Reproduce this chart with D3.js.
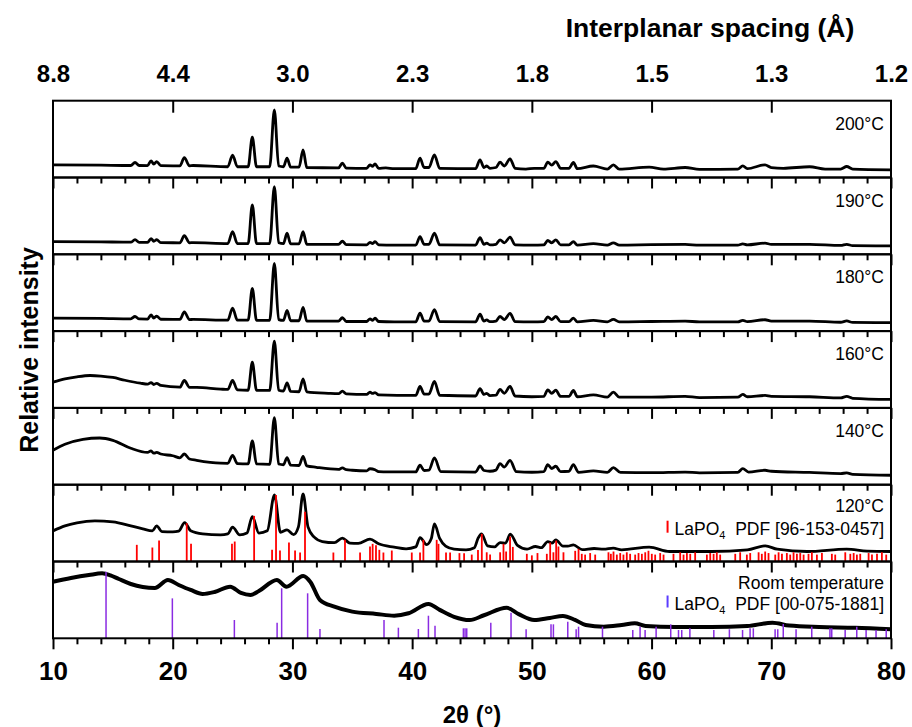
<!DOCTYPE html>
<html>
<head>
<meta charset="utf-8">
<script src="https://cdn.jsdelivr.net/npm/d3@7"></script>
<style>
  body { margin: 0; background: #fff; }
  text { font-family: "Liberation Sans", Arial, sans-serif; }
</style>
</head>
<body>
<div id="chart"></div>
<script>
// panel labels, top to bottom
var panelLabels = ['200\u00b0C', '190\u00b0C', '180\u00b0C', '160\u00b0C', '140\u00b0C', '120\u00b0C', 'Room temperature'];

// d-spacing labels on the top axis (at 2theta = 10, 20 ... 80)
var dTickPos = [10, 20, 30, 40, 50, 60, 70, 80];
var dTickLabels = ['8.8', '4.4', '3.0', '2.3', '1.8', '1.5', '1.3', '1.2'];

// patterns: [2theta, relative intensity 0..100 inside each panel]
var xrd200 = [[10,16.5],[14,16],[16.5,15.6],[16.85,19.5],[17.2,15.6],[17.9,15.5],[18.19,21.7],[18.42,17.5],[18.66,20.8],[19.0,15.4],[20.6,15.2],[20.97,26],[21.4,15.2],[21.7,15.6],[24.6,14],[25.0,29],[25.4,14],[26.3,14],[26.65,52.5],[27.0,14],[28.1,14],[28.49,88],[28.85,15],[29.25,14],[29.55,25.2],[29.85,13.5],[30.55,13.5],[30.89,36],[31.2,13],[33.85,12.5],[34.17,18.7],[34.5,12.3],[36.2,12],[36.48,16.5],[36.7,14.5],[36.9,17.8],[37.2,12],[37.8,12.5],[38.5,11.5],[40.3,11.5],[40.66,25.2],[41.0,13],[41.4,13],[41.86,29.5],[42.3,12],[45.3,11.5],[45.67,23],[46.0,13],[46.23,15],[46.5,12],[47.0,13],[47.34,20],[47.7,15],[48.18,24.3],[48.6,12],[49.5,11],[50.2,12],[51.0,12],[51.33,20],[51.66,16],[52.0,20.8],[52.4,12],[53.1,12],[53.47,19.5],[53.8,11.5],[55.14,15],[56.3,11],[56.81,16.5],[57.3,11],[59.8,13.5],[61,11],[62.8,13],[64,10.5],[67.2,11],[67.62,15.2],[68,11.5],[69.48,16.5],[70,13],[71,12],[73.2,14],[74.5,11],[75.8,11],[76.3,14.3],[76.8,11],[80,10]];

var xrd190 = [[10,16.6],[14,16.2],[16.5,15.8],[16.85,19],[17.2,15.6],[17.9,15.5],[18.19,20.5],[18.42,17],[18.66,19],[19.0,15.2],[20.6,15],[20.97,24.4],[21.4,15],[21.7,15.2],[24.6,14],[25.0,29.6],[25.4,14],[26.3,14],[26.65,64.3],[27.0,14],[28.1,14],[28.49,88],[28.85,15],[29.25,14],[29.55,27.5],[29.85,13.5],[30.55,13.5],[30.89,29.6],[31.2,13],[33.85,12.8],[34.17,17],[34.5,12.5],[36.2,12.3],[36.48,15.5],[36.7,14],[36.9,16.5],[37.2,12.3],[38.5,12],[40.3,12],[40.66,23],[41.0,13],[41.4,13],[41.86,27.5],[42.3,12.3],[45.3,12],[45.67,21.8],[46.0,13],[46.23,14.5],[46.5,12.3],[47.0,13],[47.34,18.8],[47.7,15],[48.18,22.3],[48.6,12.3],[50,12],[51.0,12.3],[51.33,18],[51.66,15],[52.0,18.8],[52.4,12.3],[53.1,12.3],[53.47,16.5],[53.8,12],[55.14,14],[56.3,12],[56.81,15],[57.3,12],[60,12.5],[62.8,12.8],[64,12],[67.2,12],[67.62,13.6],[68,12.3],[69.48,14.5],[70,13],[73.2,13],[75.8,11.5],[76.3,13],[76.8,11.3],[80,11]];

var xrd180 = [[10,17],[14,16.6],[16.5,16],[16.85,19],[17.2,15.8],[17.9,15.6],[18.19,21],[18.42,17],[18.66,19.5],[19.0,15.4],[20.6,15.2],[20.97,25],[21.4,15],[21.7,15.2],[24.6,14.2],[25.0,30],[25.4,14.2],[26.3,14.2],[26.65,55.7],[27.0,14],[28.1,14],[28.49,88],[28.85,15],[29.25,14],[29.55,27],[29.85,13.5],[30.55,13.5],[30.89,31],[31.2,13],[33.85,13],[34.17,17.5],[34.5,12.5],[36.2,12.5],[36.48,16],[36.7,14],[36.9,16.8],[37.2,12.5],[38.5,12],[40.3,12],[40.66,23.5],[41.0,13],[41.4,13],[41.86,28],[42.3,12.3],[45.3,12],[45.67,22],[46.0,13],[46.23,14.5],[46.5,12.3],[47.0,13],[47.34,19],[47.7,15],[48.18,23],[48.6,12.3],[50,12],[51.0,12.3],[51.33,18.5],[51.66,15],[52.0,19],[52.4,12.3],[53.1,12.3],[53.47,17],[53.8,12],[55.14,14],[56.3,12],[56.81,15.2],[57.3,12],[60,12.5],[62.8,13],[64,12],[67.2,12],[67.62,14],[68,12.3],[69.48,14.8],[70,13],[73.2,13],[75.8,11.5],[76.3,13.2],[76.8,11.3],[80,11]];

var xrd160 = [[10,33.5],[11,37.7],[12,40.5],[13.1,42.2],[14,41.5],[15,39.6],[16,36],[17.3,32.2],[17.9,31],[18.19,33],[18.42,30.5],[18.66,32],[19.0,29.2],[20.6,27],[20.97,35.7],[21.4,26.8],[22,26.6],[24,24.5],[24.6,24],[25.0,35.7],[25.4,23.5],[26.3,23],[26.65,59.5],[27.0,23],[28.1,22.7],[28.49,86.8],[28.85,23],[29.25,22],[29.55,32.7],[29.85,21.5],[30.55,21],[30.89,37.9],[31.2,21],[33,19],[33.85,18.5],[34.17,21.8],[34.5,18.3],[36.2,17.5],[36.48,20.5],[36.7,18.8],[36.9,20],[37.2,17],[40.3,16.2],[40.66,27.9],[41.0,18],[41.4,18],[41.86,34.4],[42.3,16.5],[45.3,15.5],[45.67,25],[46.0,17.5],[46.23,19],[46.5,16],[47.0,16.5],[47.34,24],[47.7,19],[48.18,27.9],[48.6,15.5],[50,14.5],[51.0,15],[51.33,23.6],[51.66,19],[52.0,23.1],[52.4,15],[53.1,15],[53.47,22.7],[53.8,14.5],[55.14,17],[56.3,14],[56.81,20.5],[57.3,14],[60,14],[62.8,15],[64,13.5],[67.2,14],[67.62,17.5],[68,14.5],[69.48,16.2],[70,15],[73.2,14.5],[75.8,13],[76.3,15],[76.8,12.5],[80,11]];

var xrd140 = [[10,44.8],[11,52.6],[12.5,59],[13.9,60.8],[15,57.8],[16.5,47.4],[17.9,42],[18.19,44],[18.42,41],[18.66,42],[19.0,40],[20,37.7],[20.6,35],[20.97,40],[21.4,33.5],[22,31.8],[24,28],[24.6,27.8],[25.0,38.3],[25.4,27.5],[26.3,27],[26.65,56.9],[27.0,27],[28.1,26.5],[28.49,87.3],[28.85,27],[29.25,26],[29.55,35.3],[29.85,25.5],[30.55,25],[30.89,37],[31.2,24.5],[32,22.7],[33.85,20],[34.17,21.8],[34.5,19.5],[35,18.8],[36.2,18],[36.48,20.8],[36.9,19.5],[37.2,17],[38,16.6],[40.3,16.6],[40.66,25.3],[41.0,18.5],[41.4,19],[41.86,34.8],[42.4,17],[45.3,16.5],[45.67,24.4],[46.0,18.5],[46.5,17.5],[47.0,19],[47.34,27.5],[47.7,23],[48.18,31.8],[48.7,17],[50,16.2],[51.0,17],[51.33,26.2],[51.66,21],[52.0,24],[52.4,17],[53.1,17.5],[53.47,26.2],[53.9,16],[55.14,18],[56.3,16],[56.81,22.3],[57.4,16],[60,15.6],[62.8,16.5],[64,15.5],[67.2,16],[67.62,21],[68.1,16.5],[69.48,18.8],[70,17.5],[73.2,16],[75.8,14.5],[76.3,15.3],[76.8,13.5],[80,12.3]];

var xrd120 = [[10,39.9],[11,46.4],[12,50.3],[13.5,52.9],[15,51.6],[16.5,46.4],[17.5,42.5],[18.3,39.9],[18.66,46.4],[19.1,39],[20,38.6],[20.5,39.5],[21.0,50.6],[21.5,40],[22.5,36],[24,34.7],[24.6,36],[25.0,44.7],[25.6,34.7],[26.2,37],[26.65,58.4],[27.2,37],[27.9,40],[28.5,86.6],[29.0,38],[29.55,41.2],[30.1,35],[30.5,45],[30.89,87.9],[31.3,45],[31.8,32],[32.5,26],[33.5,24.5],[34.17,30.4],[34.8,24],[35.5,23.5],[36.48,29.1],[37.2,23],[38.5,18.7],[39.5,16.5],[40.3,19],[40.66,31.2],[41.2,22],[41.6,30],[41.86,49],[42.3,30],[42.8,20],[43.5,16.1],[44.5,15.2],[45.2,18],[45.5,30],[45.8,36],[46.3,20.4],[46.9,19],[47.34,24.7],[47.8,24],[48.2,35.6],[48.8,21],[49.6,16.1],[50.3,19.5],[50.8,18],[51.33,26],[51.7,24],[52.0,28.2],[52.6,20],[53.0,20],[53.47,21.7],[54.2,15.5],[55.2,16.9],[56,16],[56.8,17.4],[57.5,15.2],[59.8,18.7],[61.5,13],[65,13],[68,15.2],[69.5,20.4],[70.5,16],[73,13],[76.3,16.1],[78,13.5],[80,13]];

var xrdRT = [[10,73.7],[11.5,78.5],[13,82.4],[14.1,84.6],[14.8,82],[15.5,77.2],[16.5,70.7],[17.5,66.8],[18.5,65.5],[19.6,75.9],[20.5,69.4],[21.5,62.9],[22.5,57.7],[23.5,60.3],[24.8,67.2],[25.7,59],[26.5,56.4],[27.2,61.6],[28.7,75.9],[29.5,67.2],[30.9,81.1],[31.5,73.4],[32.3,49.9],[33.5,41.2],[35,34.7],[37,31.7],[38.5,29.5],[39.7,32.6],[41.36,44.7],[42.3,37],[43.5,28],[44.8,23.8],[46,30],[47.9,39.7],[48.9,31.5],[50.2,23.8],[51.5,26.5],[52.6,29],[53.6,24],[54.5,17.3],[56,15.1],[57.5,17.3],[58.6,19.5],[59.5,16],[62,14.7],[65,14.7],[68,16],[70.1,20.3],[71.5,16.6],[74,14.7],[77,13.8],[80,11.7]];

// reference stick patterns: [2theta, relative height]
var pdf0457 = [[17.0,21.7],[18.3,18.2],[18.86,27.3],[21.17,49.9],[21.53,23],[24.95,23],[25.18,26],[26.8,59.4],[28.3,15.2],[28.63,86.6],[28.96,14.3],[29.71,24.7],[30.22,14.3],[30.64,11.7],[31.05,64.9],[33.42,11.7],[34.39,28.2],[35.65,11.7],[36.48,19.5],[36.7,23],[36.98,21.3],[37.26,15.2],[37.6,11.7],[38.3,14.3],[39.97,11.7],[40.66,11.7],[40.94,28.2],[42.05,28.2],[42.2,23],[42.83,11.7],[43.17,11.7],[43.95,10.9],[44.34,10.9],[44.98,9],[45.5,15],[45.82,36],[46.23,12],[46.51,9],[47.35,12],[47.63,23],[47.85,13],[48.18,32.5],[48.41,19],[49.58,10],[50.0,8],[50.47,11],[51.25,10],[51.53,24.7],[51.8,12],[52.03,27.3],[52.22,19.5],[52.64,12],[53.62,13.9],[53.9,16.5],[54.17,10],[54.45,9],[54.87,11],[55.29,9],[56.4,12],[56.6,10],[56.82,13],[57.1,9],[57.38,11],[57.65,9],[57.93,12],[58.21,10],[58.63,9],[58.91,11],[59.19,10],[59.47,12],[59.74,14],[60.02,10],[60.3,9],[60.72,11],[61.0,9],[61.83,10],[62.39,12],[62.67,9],[62.95,11],[63.23,10],[63.64,12],[64.62,9],[64.9,11],[65.18,10],[65.45,12],[65.73,9],[66.99,10],[67.4,12],[67.96,9],[68.24,11],[68.94,12],[69.21,10],[69.49,13],[69.77,11],[70.33,9],[70.61,12],[70.89,10],[71.3,11],[71.58,9],[71.86,12],[72.14,10],[72.42,11],[72.7,9],[73.11,10],[73.39,12],[73.81,9],[74.23,11],[75.06,10],[75.34,9],[76.18,12],[76.6,10],[76.88,11],[77.15,9],[77.43,10],[78.13,11],[78.41,9],[78.83,10],[79.24,12],[79.6,9]];

var pdf1881 = [[14.43,86.7],[19.97,52],[25.15,23.8],[28.72,20.3],[29.1,65.1],[31.27,58.6],[32.3,12.1],[37.65,23.8],[38.85,13.8],[40.52,12.1],[41.36,29.4],[41.91,16.4],[44.28,13],[44.42,13],[44.56,13],[46.57,20.3],[48.26,33.3],[49.52,11.7],[51.6,18.2],[51.8,18.2],[53.0,21.6],[53.7,11.7],[53.9,15.1],[55.9,15.1],[58.43,10.8],[59.04,15.1],[59.46,10.8],[60.38,15.1],[61.6,18.2],[62.25,10.8],[62.52,10.8],[63.2,13],[65.2,10.8],[66.5,11.7],[67.6,10.8],[68.23,13],[68.5,13],[70.32,11.7],[70.54,11.7],[71.0,18.6],[72.07,11.7],[73.38,15.1],[74.9,13],[75.05,13],[76.17,10.8],[77.14,15.1],[77.92,10.8],[78.75,10.8],[79.6,11.7]];

var pdfCodes = ['96-153-0457', '00-075-1881'];
var pdfColors = ['#ff0000', '#8a2be2'];

var series = [xrd200, xrd190, xrd180, xrd160, xrd140, xrd120, xrdRT];

// layout
var W = 912, H = 727;
var left = 53, right = 891, top0 = 100.7, panelH = 76.8;
var labelRight = 884;

var svg = d3.select('#chart').append('svg')
    .attr('width', W)
    .attr('height', H)
    .style('background', '#fff');

var x = d3.scaleLinear().domain([10, 80]).range([left, right]);
var y = d3.scaleLinear().domain([0, 100]).range([panelH, 0]);

var line = d3.line()
    .x(function(d){ return x(d[0]); })
    .y(function(d){ return y(d[1]); })
    .curve(d3.curveMonotoneX);

var majors = d3.range(10, 81, 10);
var minors = d3.range(12, 80, 2).filter(function(v){ return v % 10 !== 0; });

function styleAxis(g){
    g.select('.domain').remove();
    g.selectAll('.tick line').attr('stroke', '#000').attr('stroke-width', 2);
}

series.forEach(function(data, i){
    var g = svg.append('g').attr('transform', 'translate(0,' + (top0 + i * panelH) + ')');

    g.append('path')
        .datum(data)
        .attr('d', line)
        .attr('fill', 'none')
        .attr('stroke', '#000')
        .attr('stroke-width', i === 6 ? 4 : 2.8)
        .attr('stroke-linejoin', 'round');

    // stick patterns in the two lowest panels
    if (i >= 5) {
        var sticks = i === 5 ? pdf0457 : pdf1881;
        g.selectAll('line.stick').data(sticks).enter().append('line')
            .attr('class', 'stick')
            .attr('x1', function(d){ return x(d[0]); })
            .attr('x2', function(d){ return x(d[0]); })
            .attr('y1', y(0))
            .attr('y2', function(d){ return y(d[1]); })
            .attr('stroke', pdfColors[i - 5])
            .attr('stroke-width', i === 5 ? 1.8 : 1.5);
    }

    g.append('rect')
        .attr('x', left).attr('y', 0)
        .attr('width', right - left).attr('height', panelH)
        .attr('fill', 'none')
        .attr('stroke', '#000')
        .attr('stroke-width', 2);

    // panel label
    g.append('text')
        .attr('x', labelRight)
        .attr('y', i === 5 || i === 6 ? 27 : 29)
        .attr('text-anchor', 'end')
        .attr('font-size', 17.5)
        .text(panelLabels[i]);

    if (i >= 5) {
        var yb = i === 5 ? 50 : 48;
        var t = g.append('text')
            .attr('x', labelRight)
            .attr('y', yb)
            .attr('text-anchor', 'end')
            .attr('font-size', 17.5);
        t.append('tspan').text('LaPO');
        t.append('tspan').attr('dy', 4).attr('font-size', 11).text('4');
        t.append('tspan').attr('dy', -4).text('\u00a0\u00a0PDF [' + pdfCodes[i - 5] + ']');
        var x0 = labelRight - t.node().getComputedTextLength();
        g.append('line')
            .attr('x1', x0 - 7).attr('x2', x0 - 7)
            .attr('y1', yb - 14).attr('y2', yb - 2)
            .attr('stroke', i === 5 ? '#ff0000' : '#5a3cff')
            .attr('stroke-width', 2);
    }
});

// ticks on the panel boundaries (pointing down into the panel below)
for (var k = 1; k <= 7; k++) {
    var yy = top0 + k * panelH;
    svg.append('g').attr('transform', 'translate(0,' + yy + ')')
        .call(d3.axisBottom(x).tickValues(majors).tickSize(11).tickFormat(''))
        .call(styleAxis);
    svg.append('g').attr('transform', 'translate(0,' + yy + ')')
        .call(d3.axisBottom(x).tickValues(minors).tickSize(6).tickFormat(''))
        .call(styleAxis);
}

// bottom labels
var bottomAxis = svg.append('g').attr('transform', 'translate(0,' + (top0 + 7 * panelH) + ')')
    .call(d3.axisBottom(x).tickValues(majors).tickSize(0).tickPadding(23).tickFormat(d3.format('d')));
bottomAxis.select('.domain').remove();
bottomAxis.selectAll('text')
    .attr('font-size', 26)
    .attr('font-weight', 'bold')
    .attr('fill', '#000')
    .style('font-family', '"Liberation Sans", Arial, sans-serif');

// top axis: major ticks only, pointing down, with d-spacing labels above
svg.append('g').attr('transform', 'translate(0,' + top0 + ')')
    .call(d3.axisBottom(x).tickValues(majors.slice(1, -1)).tickSize(12).tickFormat(''))
    .call(styleAxis);

var topAxis = svg.append('g').attr('transform', 'translate(0,' + top0 + ')')
    .call(d3.axisTop(x).tickValues(dTickPos).tickSize(0).tickPadding(19)
        .tickFormat(function(d, i){ return dTickLabels[i]; }));
topAxis.select('.domain').remove();
topAxis.selectAll('text')
    .attr('font-size', 24)
    .attr('font-weight', 'bold')
    .attr('fill', '#000')
    .style('font-family', '"Liberation Sans", Arial, sans-serif');

// titles
svg.append('text')
    .attr('x', 710).attr('y', 37)
    .attr('text-anchor', 'middle')
    .attr('font-size', 26.5)
    .attr('font-weight', 'bold')
    .text('Interplanar spacing (\u00c5)');

svg.append('text')
    .attr('x', (left + right) / 2).attr('y', 723)
    .attr('text-anchor', 'middle')
    .attr('font-size', 24)
    .attr('font-weight', 'bold')
    .text('2\u03b8 (\u00b0)');

svg.append('text')
    .attr('transform', 'translate(38,350) rotate(-90)')
    .attr('text-anchor', 'middle')
    .attr('font-size', 25)
    .attr('font-weight', 'bold')
    .text('Relative intensity');
</script>
</body>
</html>
